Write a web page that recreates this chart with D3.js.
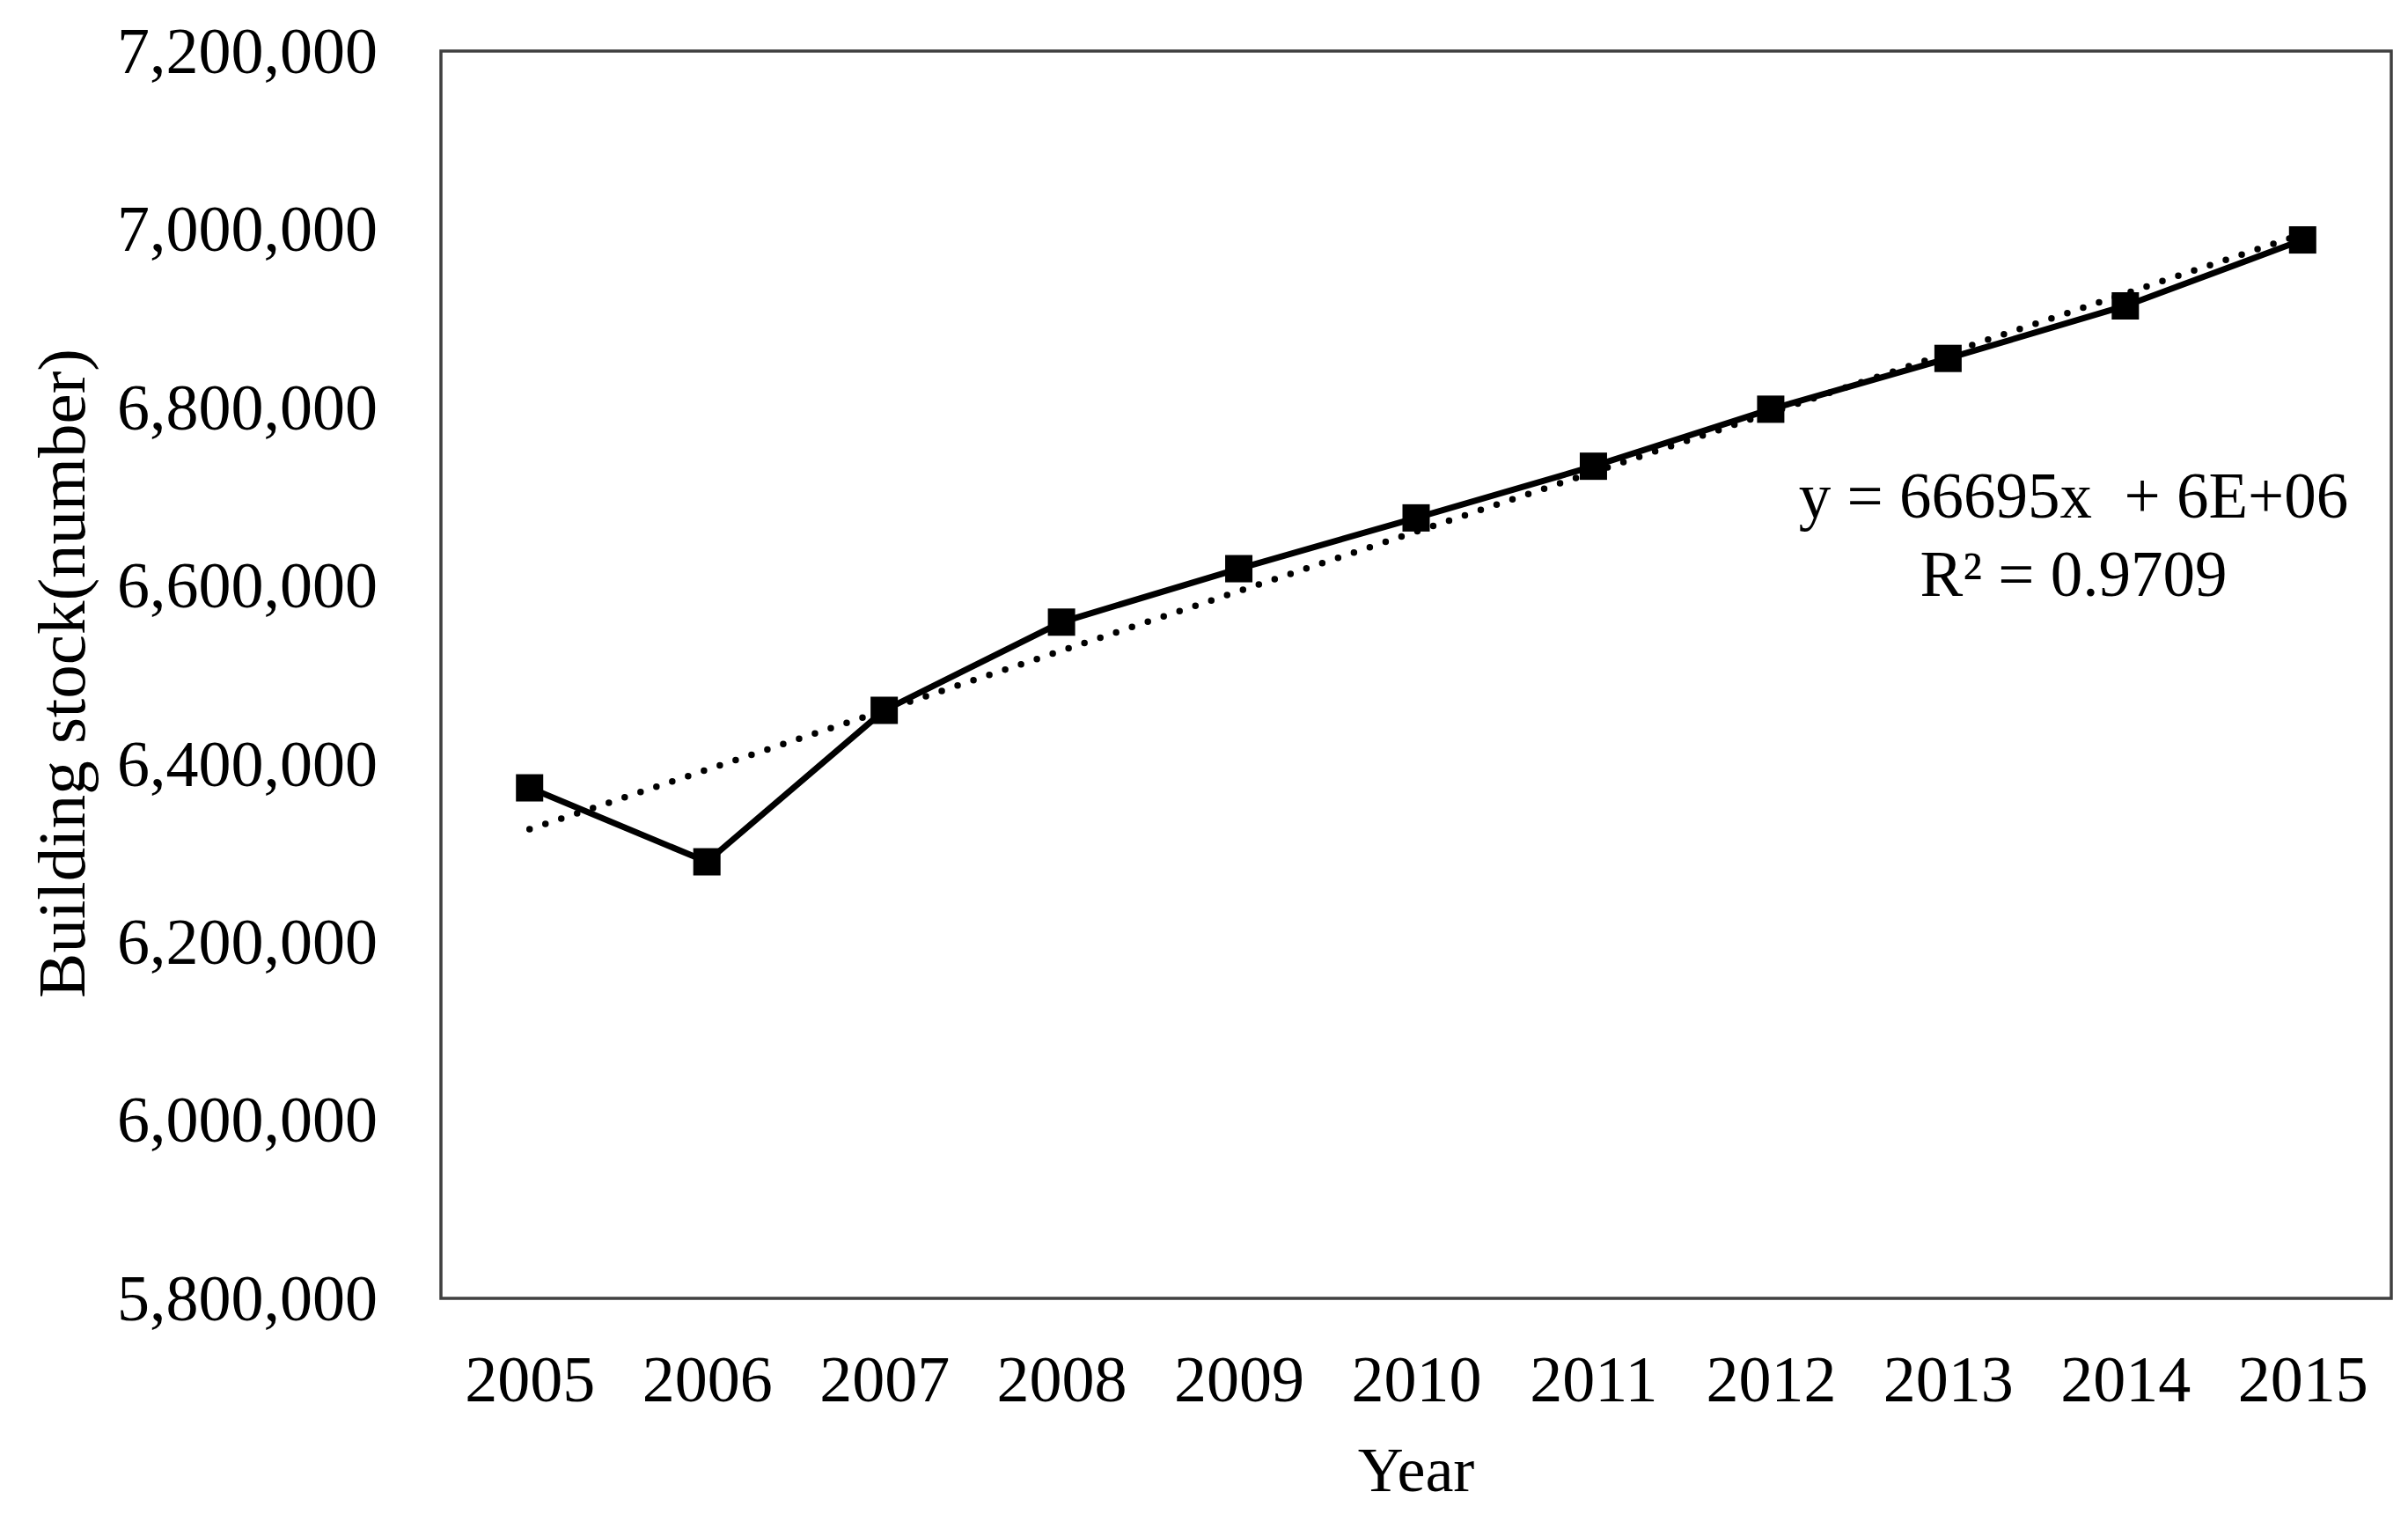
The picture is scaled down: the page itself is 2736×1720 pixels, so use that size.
<!DOCTYPE html>
<html>
<head>
<meta charset="utf-8">
<script src="https://cdn.jsdelivr.net/npm/d3@7"></script>
<style>
html,body{margin:0;padding:0;background:#fff;}
svg{display:block;}
text{font-family:"Liberation Serif","Times New Roman",serif;fill:#000;}
</style>
</head>
<body>
<svg id="chart" width="2736" height="1720"></svg>
<script>
const years = ["2005","2006","2007","2008","2009","2010","2011","2012","2013","2014","2015"];
const buildingStock = [6373000, 6290000, 6460000, 6559000, 6619000, 6676000, 6734000, 6798000, 6855000, 6914000, 6988000];
const yTicks = [5800000, 6000000, 6200000, 6400000, 6600000, 6800000, 7000000, 7200000];
const equationLabel = "y = 66695x  + 6E+06";
const r2Label = "R\u00B2 = 0.9709";
const yTitle = "Building stock(number)";
const xTitle = "Year";

const W = 2736, H = 1720;
const margin = {top: 58, right: 19, bottom: 245, left: 501};
const iw = W - margin.left - margin.right, ih = H - margin.top - margin.bottom;

const svg = d3.select("#chart");
const g = svg.append("g").attr("transform", `translate(${margin.left},${margin.top})`);

const x = d3.scalePoint().domain(years).range([0, iw]).padding(0.5);
const y = d3.scaleLinear().domain([5800000, 7200000]).range([ih, 0]);

// frame
g.append("rect").attr("x", 0).attr("y", 0).attr("width", iw).attr("height", ih)
  .attr("fill", "none").attr("stroke", "#404040").attr("stroke-width", 3.5);

// y axis
const fmt = d3.format(",");
const yAxis = d3.axisLeft(y).tickValues(yTicks).tickFormat(fmt).tickSize(0).tickPadding(72);
const ya = g.append("g").call(yAxis);
ya.select(".domain").remove();
ya.selectAll("text").attr("font-family", "Liberation Serif, Times New Roman, serif")
  .attr("font-size", 74).attr("fill", "#000").attr("dy", "0.33em");

// x axis
const xAxis = d3.axisBottom(x).tickSize(0).tickPadding(0);
const xa = g.append("g").attr("transform", `translate(0,${ih})`).call(xAxis);
xa.select(".domain").remove();
xa.selectAll("text").attr("font-family", "Liberation Serif, Times New Roman, serif")
  .attr("font-size", 74).attr("fill", "#000").attr("dy", null).attr("y", 117);

// trend line (least squares, Excel x = 1..n)
const n = buildingStock.length;
const xs = d3.range(1, n + 1);
const mx = d3.mean(xs), my = d3.mean(buildingStock);
const slope = d3.sum(xs, (v, i) => (v - mx) * (buildingStock[i] - my)) / d3.sum(xs, v => (v - mx) * (v - mx));
const intercept = my - slope * mx;
const trend = years.map((yr, i) => ({yr, v: intercept + slope * (i + 1)}));

const lineGen = d3.line().x(d => x(d.yr)).y(d => y(d.v));

g.append("path").datum(trend).attr("d", lineGen)
  .attr("fill", "none").attr("stroke", "#000").attr("stroke-width", 7.5)
  .attr("stroke-linecap", "round").attr("stroke-dasharray", "0,19");

const data = years.map((yr, i) => ({yr, v: buildingStock[i]}));
g.append("path").datum(data).attr("d", lineGen)
  .attr("fill", "none").attr("stroke", "#000").attr("stroke-width", 7);

g.selectAll(".mk").data(data).enter().append("path").attr("class", "mk")
  .attr("transform", d => `translate(${x(d.yr)},${y(d.v)})`)
  .attr("d", d3.symbol().type(d3.symbolSquare).size(31 * 31))
  .attr("fill", "#000");

// equation
svg.append("text").attr("x", 2356).attr("y", 588).attr("text-anchor", "middle")
  .style("white-space", "pre")
  .attr("font-size", 73).text(equationLabel);
svg.append("text").attr("x", 2356).attr("y", 677).attr("text-anchor", "middle")
  .attr("font-size", 73).text(r2Label);

// axis titles
svg.append("text").attr("transform", `translate(96,765) rotate(-90)`).attr("text-anchor", "middle")
  .attr("font-size", 77).text(yTitle);
svg.append("text").attr("x", 1609).attr("y", 1694).attr("text-anchor", "middle")
  .attr("font-size", 72).text(xTitle);
</script>
</body>
</html>
